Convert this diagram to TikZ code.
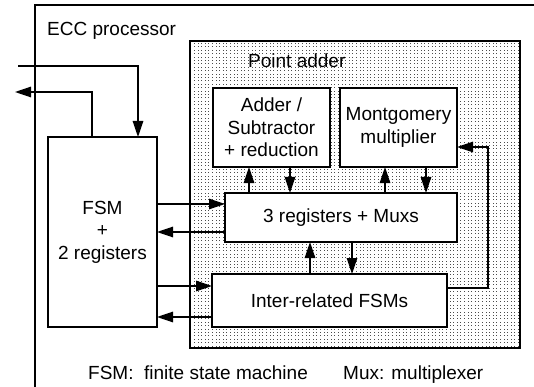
\documentclass[tikz,border=0pt]{standalone}
\usepackage{fontspec}
\setmainfont{Liberation Sans}
\usetikzlibrary{arrows.meta, positioning, patterns}
\pgfdeclarepatternformonly{adderdots}{\pgfqpoint{-1pt}{-1pt}}{\pgfqpoint{1pt}{1pt}}{\pgfqpoint{3.6pt}{3.4pt}}{%
    \pgfpathrectangle{\pgfqpoint{-0.5pt}{-0.5pt}}{\pgfqpoint{1pt}{1pt}}%
    \pgfusepath{fill}%
}
\tikzset{
    block/.style={rectangle, draw=black, line width=1.6pt, fill=white, inner sep=0pt, outer sep=0pt, align=center, font=\fontsize{19}{22.5}\selectfont},
    area/.style={rectangle, draw=black, line width=1.6pt, inner sep=0pt, outer sep=0pt, preaction={fill=white}, pattern=adderdots, pattern color=black!70},
    plaintext/.style={inner sep=0pt, anchor=base west, font=\fontsize{19}{22.5}\selectfont},
    arrow/.style={line width=1.3pt, -{Triangle[length=16pt, width=10.5pt]}}
}
\begin{document}
\begin{tikzpicture}[x=1pt, y=-1pt, node distance=10pt]
    \useasboundingbox (0,0) rectangle (534,387);

    % processor frame
    \draw[line width=1.6pt] (35,395) -- (35,5) -- (545,5);
    \node (ecc) [plaintext] at (47,36) {ECC processor};

    % point adder and its blocks
    \node (padder) [area, minimum width=330pt, minimum height=307pt] at (355,194.5) {};
    \node (padlabel) [plaintext] at (248,68) {Point adder};

    \node (fsm) [block, minimum width=109pt, minimum height=190pt] at (102.5,232) {FSM\\+\\2 registers};
    \node (addsub) [block, minimum width=117pt, minimum height=79pt] at (271.5,127.5) {Adder /\\Subtractor\\+ reduction};
    \node (mont) [block, minimum width=117pt, minimum height=79pt, right=10pt of addsub] {Montgomery\\multiplier};
    \node (regs) [block, minimum width=232pt, minimum height=49pt] at (341,217.5) {3 registers + Muxs};
    \node (ctrl) [block, minimum width=235pt, minimum height=53pt] at (329.5,300.5) {Inter-related FSMs};

    % free ends and tapping points
    \coordinate (in) at (18,66);
    \coordinate (out) at (15,92);
    \coordinate (r1) at ([yshift=13.5pt]regs.west);
    \coordinate (r2) at ([yshift=-14.5pt]regs.west);
    \coordinate (c1) at ([yshift=14.5pt]ctrl.west);
    \coordinate (c2) at ([yshift=-16.5pt]ctrl.west);
    \coordinate (a1) at ([xshift=-22.5pt]addsub.south);
    \coordinate (a2) at ([xshift=18.5pt]addsub.south);
    \coordinate (m1) at ([xshift=-13.5pt]mont.south);
    \coordinate (m2) at ([xshift=27.5pt]mont.south);
    \coordinate (b1) at ([xshift=-31pt]regs.south);
    \coordinate (b2) at ([xshift=11pt]regs.south);

    \draw [arrow] (in) -| ([xshift=35.5pt]fsm.north);
    \draw [arrow] ([xshift=-10.5pt]fsm.north) |- (out);

    \draw [arrow] (fsm.east |- r1) -- (r1);
    \draw [arrow] (r2) -- (fsm.east |- r2);
    \draw [arrow] (fsm.east |- c1) -- (c1);
    \draw [arrow] (c2) -- (fsm.east |- c2);

    \draw [arrow] (regs.north -| a1) -- (a1);
    \draw [arrow] (a2) -- (regs.north -| a2);
    \draw [arrow] (regs.north -| m1) -- (m1);
    \draw [arrow] (m2) -- (regs.north -| m2);
    \draw [arrow] (ctrl.north -| b1) -- (b1);
    \draw [arrow] (b2) -- (ctrl.north -| b2);

    \draw [arrow] ([yshift=12.5pt]ctrl.east) -- ++(41,0) |- ([yshift=-19.5pt]mont.east);

    % notes
    \node (fsmnote) [plaintext] at (88,379.5) {FSM:~ finite state machine};
    \node (muxnote) [plaintext] at (343,379.5) {Mux: multiplexer};
\end{tikzpicture}
\end{document}
